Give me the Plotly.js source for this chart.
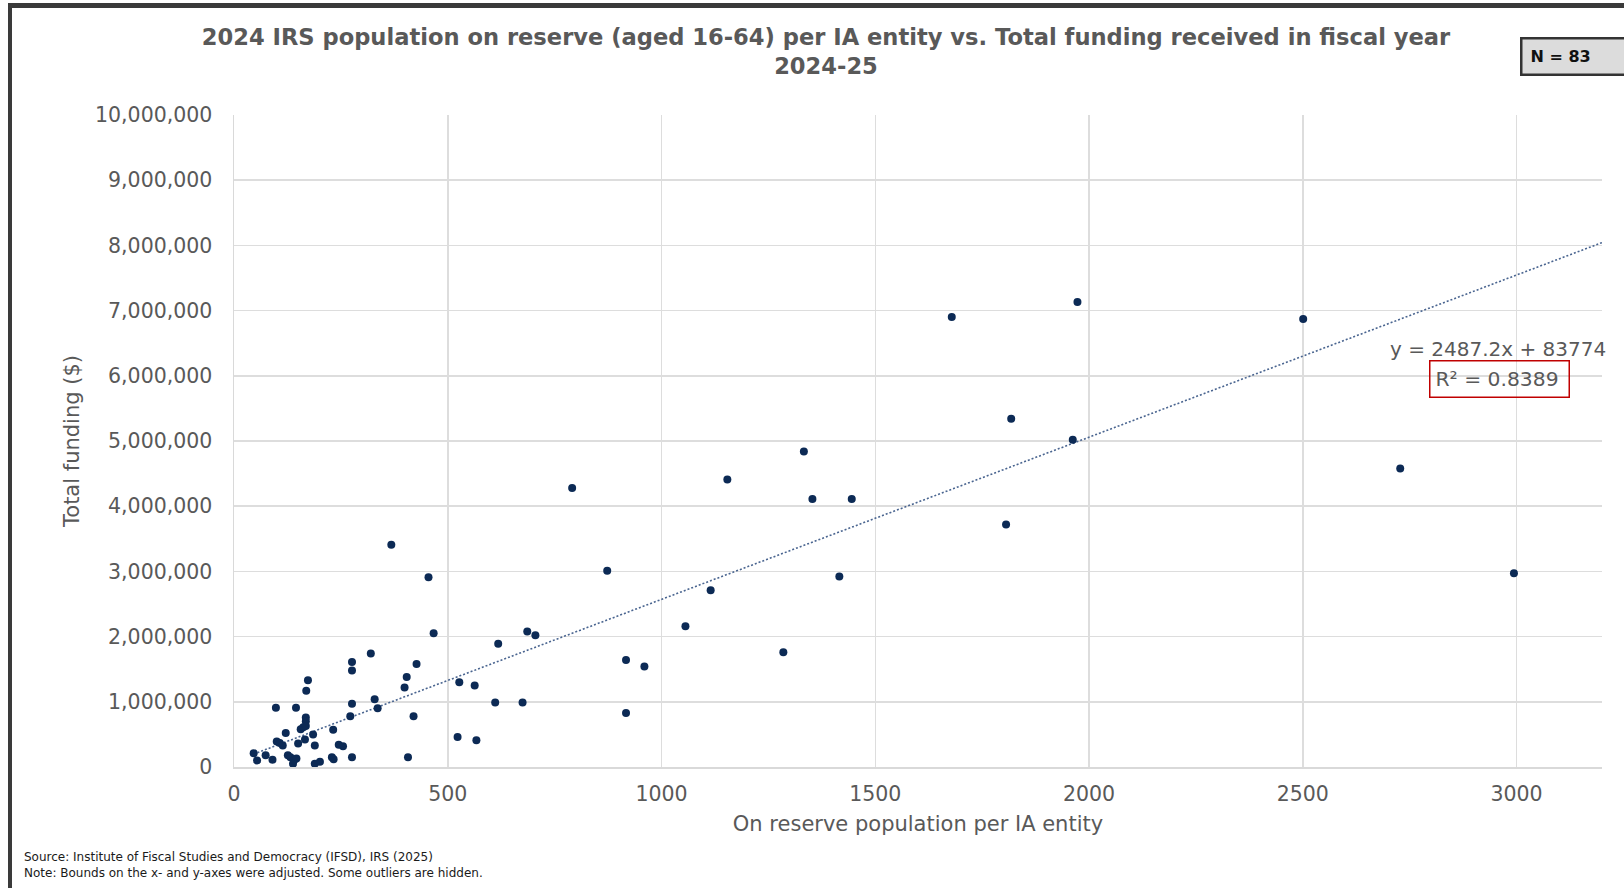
<!DOCTYPE html>
<html>
<head>
<meta charset="utf-8">
<script src="https://cdn.plot.ly/plotly-3.0.1.min.js"></script>
<style>
  html, body { margin: 0; padding: 0; background: #ffffff; }
  #wrap { position: relative; width: 1624px; height: 888px; overflow: hidden; }
  #chart { position: absolute; left: 0; top: 0; width: 1624px; height: 888px; }
  #frame { position: absolute; left: 8px; top: 3px; width: 1700px; height: 1000px;
           border-left: 4px solid #3a3a3a; border-top: 5px solid #3a3a3a; pointer-events: none; }
</style>
</head>
<body>
<div id="wrap">
  <div id="chart"></div>
  <div id="frame"></div>
</div>
<script>
// On-reserve population (aged 16-64) per IA entity
const population = [
  46, 54, 74, 90, 98, 100, 107, 114, 121, 126,
  132, 140, 146, 138, 145, 150, 156, 162, 168, 168,
  168, 166, 169, 173, 185, 189, 189, 201, 232, 229,
  233, 245, 255, 276, 276, 276, 272, 276, 320, 329,
  336, 404, 399, 407, 420, 427, 368, 455, 467, 527,
  563, 523, 567, 618, 611, 675, 686, 705, 791, 873,
  917, 960, 917, 1056, 1115, 1154, 1285, 1333, 1353, 1445,
  1416, 1679, 1806, 1818, 1962, 1973, 2501, 2728, 2994
];
// Total funding received in fiscal year 2024-25 ($)
const funding = [
  210000, 100000, 180000, 110000, 910000, 390000, 370000, 330000, 520000, 180000,
  150000, 100000, 130000, 50000, 910000, 360000, 580000, 610000, 760000, 700000,
  630000, 420000, 1170000, 1330000, 500000, 330000, 50000, 80000, 570000, 150000,
  120000, 340000, 320000, 1610000, 1480000, 970000, 780000, 150000, 1740000, 1040000,
  900000, 1380000, 1220000, 150000, 780000, 1580000, 3410000, 2910000, 2050000, 1300000,
  1250000, 460000, 410000, 1890000, 990000, 990000, 2080000, 2020000, 4280000, 3010000,
  1640000, 1540000, 830000, 2160000, 2710000, 4410000, 1760000, 4840000, 4110000, 4110000,
  2920000, 6900000, 3720000, 5340000, 5020000, 7130000, 6870000, 4580000, 2970000
];
// Linear trendline reported on the chart
const trendSlope = 2487.2;
const trendIntercept = 83774;
const rSquared = 0.8389;
const sampleSize = 83;

const xRange = [0, 3200];
const yRange = [0, 10000000];
const xTickVals = [0, 500, 1000, 1500, 2000, 2500, 3000];
const xTickText = ['0', '500', '1000', '1500', '2000', '2500', '3000'];
const yTickVals = [0, 1000000, 2000000, 3000000, 4000000, 5000000, 6000000, 7000000, 8000000, 9000000, 10000000];
const yTickText = ['0', '1,000,000', '2,000,000', '3,000,000', '4,000,000', '5,000,000', '6,000,000', '7,000,000', '8,000,000', '9,000,000', '10,000,000'];

const trendX = [Math.min.apply(null, population), xRange[1]];
const trendY = trendX.map(v => trendSlope * v + trendIntercept);

const FONT = '"DejaVu Sans", Verdana, sans-serif';
const GREY = '#595959';

const traces = [
  {
    type: 'scatter', mode: 'lines', x: trendX, y: trendY,
    line: { color: '#4a6590', width: 1.6, dash: '2px,2px' },
    hoverinfo: 'skip', showlegend: false
  },
  {
    type: 'scatter', mode: 'markers', x: population, y: funding,
    marker: { color: '#0c2a55', size: 8, line: { width: 0 } },
    showlegend: false
  }
];

const layout = {
  width: 1624, height: 888,
  paper_bgcolor: '#ffffff', plot_bgcolor: '#ffffff',
  margin: { l: 234, r: 22, t: 115, b: 121, pad: 0 },
  font: { family: FONT, color: GREY },
  showlegend: false,
  title: {
    text: '<b>2024 IRS population on reserve (aged 16-64) per IA entity vs. Total funding received in fiscal year<br>2024-25</b>',
    font: { family: FONT, size: 22.6, color: GREY },
    x: 826 / 1624, xanchor: 'center', xref: 'container',
    y: 1 - 45 / 888, yanchor: 'top', yref: 'container',
    pad: { t: 0, b: 0, l: 0, r: 0 }
  },
  xaxis: {
    range: xRange, tickmode: 'array', tickvals: xTickVals, ticktext: xTickText,
    showgrid: true, gridcolor: '#dddddd', gridwidth: 1.5,
    showline: true, linecolor: '#d9d9d9', linewidth: 1.5,
    zeroline: false, ticks: '', ticklabelstandoff: 8,
    tickfont: { family: FONT, size: 20.5, color: GREY },
    title: { text: 'On reserve population per IA entity', font: { family: FONT, size: 21, color: GREY }, standoff: 11 },
    fixedrange: true
  },
  yaxis: {
    range: yRange, tickmode: 'array', tickvals: yTickVals, ticktext: yTickText,
    showgrid: true, gridcolor: '#dddddd', gridwidth: 1.5,
    showline: true, linecolor: '#d9d9d9', linewidth: 1.5,
    zeroline: false, ticks: '', ticklabelstandoff: 16,
    tickfont: { family: FONT, size: 20.5, color: GREY },
    title: { text: 'Total funding ($)', font: { family: FONT, size: 21, color: GREY }, standoff: 9 },
    fixedrange: true
  },
  annotations: [
    {
      text: 'y = ' + trendSlope.toFixed(1) + 'x + ' + trendIntercept,
      xref: 'paper', yref: 'paper', x: (1388 - 234) / 1368, y: (767 - 349) / 652,
      xanchor: 'left', yanchor: 'middle', showarrow: false,
      font: { family: FONT, size: 20, color: GREY }
    },
    {
      text: 'R² = ' + rSquared.toFixed(4),
      xref: 'paper', yref: 'paper', x: (1499.5 - 234) / 1368, y: (767 - 379) / 652,
      xanchor: 'center', yanchor: 'middle', showarrow: false,
      width: 128, height: 25, align: 'left', borderpad: 5,
      bordercolor: '#c00000', borderwidth: 1.5,
      font: { family: FONT, size: 20.3, color: GREY }
    },
    {
      text: '<b>N = ' + sampleSize + '</b>',
      xref: 'paper', yref: 'paper', x: (1520 - 234) / 1368, y: (767 - 37) / 652,
      xanchor: 'left', yanchor: 'top', showarrow: false,
      width: 110, height: 18, align: 'left', borderpad: 8,
      bordercolor: '#333333', borderwidth: 2.5, bgcolor: '#dcdcdc',
      font: { family: FONT, size: 16, color: '#111111' }
    },
    {
      text: 'Source: Institute of Fiscal Studies and Democracy (IFSD), IRS (2025)<br>Note: Bounds on the x- and y-axes were adjusted. Some outliers are hidden.',
      xref: 'paper', yref: 'paper', x: (22 - 234) / 1368, y: (767 - 864.8) / 652,
      xanchor: 'left', yanchor: 'middle', showarrow: false, align: 'left',
      font: { family: FONT, size: 12, color: '#1a1a1a' }
    }
  ]
};

Plotly.newPlot('chart', traces, layout, { displayModeBar: false, staticPlot: true });
</script>
</body>
</html>
